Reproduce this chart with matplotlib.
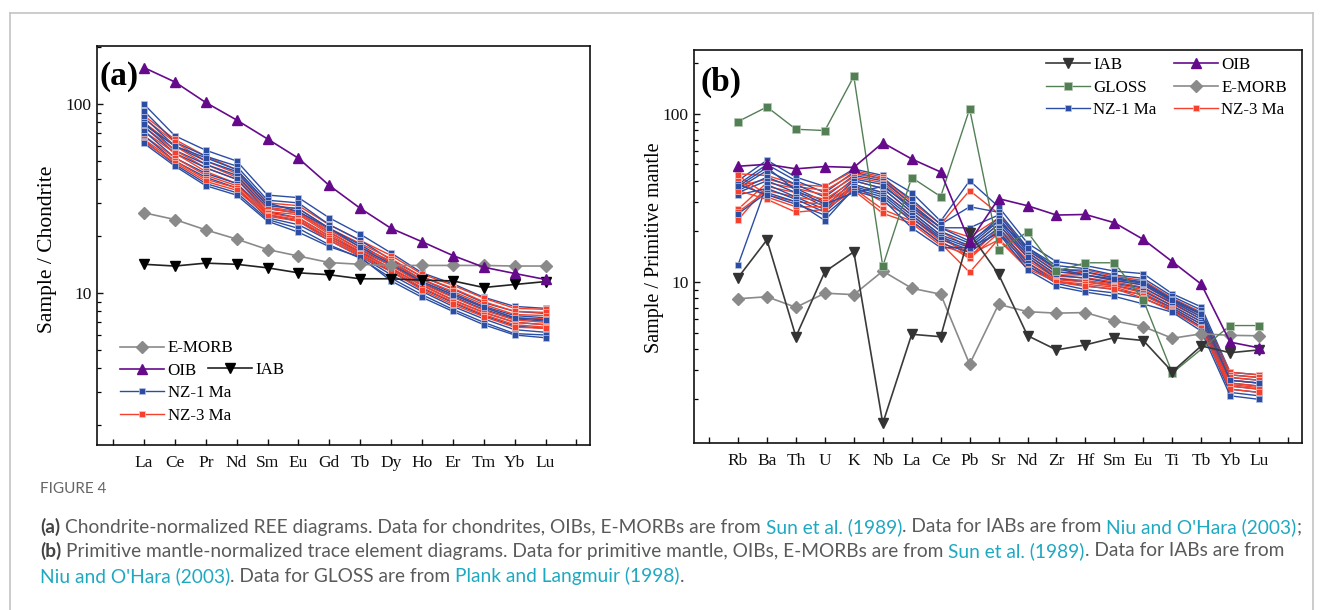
import matplotlib
matplotlib.use('Agg')
import matplotlib.pyplot as plt
import numpy as np
from matplotlib.lines import Line2D
from matplotlib.ticker import LogLocator, NullFormatter, FixedLocator, FixedFormatter, FuncFormatter

W, H = 1323, 610

# ---- panel (a): chondrite-normalized REE ----
ree = ['La', 'Ce', 'Pr', 'Nd', 'Sm', 'Eu', 'Gd', 'Tb', 'Dy', 'Ho', 'Er', 'Tm', 'Yb', 'Lu']
oib_ree = [156, 131, 102, 82.4, 65.4, 51.7, 37.1, 28.1, 22.0, 18.7, 15.8, 13.7, 12.7, 11.8]
emorb_ree = [26.6, 24.5, 21.6, 19.3, 17.0, 15.7, 14.5, 14.2, 14.0, 14.0, 14.0, 14.0, 13.9, 13.9]
iab_ree = [14.2, 13.9, 14.4, 14.2, 13.6, 12.8, 12.5, 11.9, 11.9, 11.7, 11.6, 10.7, 11.1, 11.5]

nz1_ree = [
    [100, 68, 57, 50, 33, 32, 25, 20.5, 16.3, 12.8, 11.2, 9.5, 8.5, 8.3],
    [92, 63, 53, 47, 31, 30, 23, 19, 15, 12.2, 10.5, 8.9, 8.0, 7.8],
    [85, 60, 50, 44, 29, 28, 22, 18, 14.5, 11.8, 10.0, 8.5, 7.6, 7.4],
    [80, 57, 48, 42, 28, 26.5, 21, 17, 14, 11.3, 9.6, 8.2, 7.3, 7.1],
    [76, 55, 46, 40, 27, 25, 20, 16.5, 13.5, 11, 9.2, 7.9, 7.0, 6.8],
    [72, 52, 43, 38, 26, 24, 19.5, 16, 13, 10.6, 8.9, 7.6, 6.7, 6.5],
    [68, 50, 41, 36, 25, 23, 19, 15.7, 12.5, 10.2, 8.5, 7.3, 6.4, 6.2],
    [64, 48, 38, 34, 24.5, 22, 18, 15.3, 12, 9.8, 8.2, 7.0, 6.1, 6.0],
    [62, 47, 37, 33, 24, 21, 17.6, 15.5, 11.6, 9.5, 8.0, 6.8, 6.0, 5.8],
    [78, 60, 52, 45, 30, 27, 22, 17.5, 14.2, 11.5, 9.8, 8.4, 7.4, 7.2],
]
nz3_ree = [
    [87, 65, 53, 45, 30, 29, 23, 19, 15.8, 12.6, 11.0, 9.4, 8.3, 8.2],
    [84, 63, 50, 43, 29, 28, 22, 18.3, 15.2, 12.2, 10.6, 9.0, 8.0, 7.9],
    [80, 60, 48, 41, 28.5, 27, 21.5, 17.5, 14.8, 11.8, 10.2, 8.7, 7.7, 7.6],
    [76, 57, 46, 40, 28, 26.5, 21, 17, 14.5, 11.5, 9.8, 8.4, 7.4, 7.3],
    [72, 55, 44, 38, 27, 26, 20.5, 16.6, 14, 11.2, 9.5, 8.1, 7.2, 7.0],
    [68, 52, 42, 37, 26.5, 25, 20, 16.2, 13.6, 11, 9.2, 7.9, 7.0, 6.8],
    [65, 50, 40, 36, 26, 24.5, 19.5, 16, 13.3, 10.7, 9.0, 7.7, 6.8, 6.6],
    [63, 49, 39, 35, 25.5, 24, 19, 15.6, 13, 10.4, 8.7, 7.5, 6.6, 6.5],
]

# ---- panel (b): primitive-mantle-normalized trace elements ----
trace = ['Rb', 'Ba', 'Th', 'U', 'K', 'Nb', 'La', 'Ce', 'Pb', 'Sr',
         'Nd', 'Zr', 'Hf', 'Sm', 'Eu', 'Ti', 'Tb', 'Yb', 'Lu']
oib_tr = [48.8, 50.1, 47.1, 48.6, 48.0, 67.3, 53.9, 45.1, 17.3, 31.3,
          28.4, 25.0, 25.2, 22.5, 17.9, 13.2, 9.7, 4.38, 4.05]
emorb_tr = [7.94, 8.16, 7.06, 8.57, 8.4, 11.6, 9.17, 8.45, 3.24, 7.35,
            6.65, 6.52, 6.57, 5.86, 5.42, 4.62, 4.91, 4.81, 4.78]
iab_tr = [10.6, 17.8, 4.72, 11.5, 15.1, 1.44, 4.88, 4.72, 19.5, 11.1,
          4.79, 3.94, 4.22, 4.66, 4.48, 2.92, 4.16, 3.79, 3.94]
gloss_tr = [90, 110, 81, 79.6, 167, 12.4, 41.8, 32.2, 107, 15.5,
            19.8, 11.6, 13.0, 13.0, 7.8, 2.87, None, 5.5, 5.5]

nz1_tr = [
    [40, 53, 42, 37, 47, 43, 34, 23, 40, 28, 17, 13.2, 12.5, 11.6, 11.2, 8.5, 7.1, 2.9, 2.8],
    [38, 50, 40, 34, 45, 41, 31, 22, 28, 26, 16, 12.5, 12, 11, 10.5, 8.2, 6.8, 2.8, 2.7],
    [36, 46, 38, 32, 43, 40, 29, 21, 21, 25, 15.5, 12, 11.5, 10.6, 10, 7.9, 6.5, 2.7, 2.6],
    [35, 42, 36, 30, 41, 38, 27, 20, 17, 24, 15, 11.5, 11, 10.2, 9.6, 7.7, 6.2, 2.6, 2.5],
    [34, 40, 34, 28, 40, 36, 26, 19, 16.5, 23, 14.5, 11, 10.5, 9.8, 9.2, 7.5, 6.0, 2.5, 2.4],
    [12.6, 38, 32, 27, 38, 34, 25, 18.5, 16, 22, 14, 10.5, 10, 9.5, 8.8, 7.2, 5.8, 2.4, 2.3],
    [33, 36, 31, 26, 37, 33, 24, 18, 15.5, 21, 13, 10, 9.5, 9.0, 8.4, 7.0, 5.6, 2.3, 2.2],
    [25.4, 34, 30, 23.2, 36, 32, 23, 17, 15, 20, 12.5, 9.8, 9.0, 8.6, 8.0, 6.8, 5.4, 2.2, 2.1],
    [38, 33, 29, 25, 35, 31, 21, 16, 16, 19.5, 11.8, 9.4, 8.7, 8.2, 7.4, 6.6, 5.1, 2.1, 2.0],
    [37, 48, 35, 29, 34, 37, 28, 21, 17.5, 23, 16, 12, 11, 10.4, 9.8, 7.8, 6.4, 2.6, 2.5],
]
nz3_tr = [
    [44, 43, 38, 37, 46, 42, 30, 22, 35, 25.5, 15.5, 11.8, 11.8, 10.8, 10.2, 8.0, 6.6, 2.9, 2.8],
    [37, 41, 37, 35, 44, 41, 29, 21, 18.5, 24, 15, 11.4, 11.4, 10.5, 9.9, 7.8, 6.4, 2.8, 2.7],
    [27, 39, 36, 33, 42, 39, 28, 20, 16, 22, 14.5, 11, 11, 10.2, 9.6, 7.6, 6.2, 2.7, 2.6],
    [23.4, 37, 34, 31, 40, 36, 26, 19, 14, 21, 14, 10.8, 10.6, 10, 9.3, 7.4, 6.0, 2.6, 2.5],
    [26, 35, 32, 30, 38, 34, 25, 18, 15, 20, 13.5, 10.5, 10.2, 9.7, 9.0, 7.2, 5.8, 2.5, 2.4],
    [43, 33, 30, 29, 37, 30, 24, 17.5, 13.8, 19.5, 13, 10.3, 10, 9.5, 8.6, 7.0, 5.6, 2.45, 2.35],
    [40, 32, 28, 28, 36, 27, 23, 17, 11.4, 18, 12.5, 10.1, 9.7, 9.3, 8.3, 6.9, 5.4, 2.4, 2.3],
    [35, 31, 26, 27, 35, 25.6, 22.3, 16.5, 14.5, 17.8, 12, 10, 9.4, 9.1, 8.0, 6.7, 5.3, 2.3, 2.2],
]

serif = 'Liberation Serif'
plt.rcParams['font.family'] = serif

BLUE = '#2b4ea3'
RED = '#f4402c'
PURPLE = '#660a8c'
GREY = '#8a8a8a'
GREEN = '#537f55'

sty = {
    'nz1': dict(color=BLUE, marker='s', ms=4.2, lw=1.0, mfc=BLUE, mec='#b9c4e4', mew=0.5),
    'nz3': dict(color=RED, marker='s', ms=4.2, lw=1.0, mfc=RED, mec='#ffc6bc', mew=0.5),
    'oib': dict(color=PURPLE, marker='^', ms=7, lw=1.2, mfc=PURPLE, mec=PURPLE),
    'emorb': dict(color=GREY, marker='D', ms=6, lw=1.2, mfc=GREY, mec=GREY),
    'gloss': dict(color=GREEN, marker='s', ms=6, lw=1.0, mfc=GREEN, mec='#b5c9b5', mew=0.5),
}


def px_axes(fig, left, top, right, bottom):
    return fig.add_axes([left / W, 1 - bottom / H, (right - left) / W, (bottom - top) / H])


def style_axes(ax, names, ylim, xmax):
    n = len(names)
    ax.set_yscale('log')
    ax.set_ylim(*ylim)
    ax.set_xlim(-0.52, xmax)
    ax.xaxis.set_major_locator(FixedLocator(range(0, n + 2)))
    ax.xaxis.set_major_formatter(FixedFormatter([''] + names + ['']))
    ax.yaxis.set_major_locator(LogLocator(base=10, numticks=10))
    ax.yaxis.set_major_formatter(FuncFormatter(lambda v, p: f'{v:g}'))
    ax.yaxis.set_minor_locator(LogLocator(base=10, subs=np.arange(2, 10), numticks=20))
    ax.yaxis.set_minor_formatter(NullFormatter())
    ax.tick_params(axis='both', which='major', direction='in', length=4.5, width=1.0,
                   labelsize=12.5, colors='#111111')
    ax.tick_params(axis='x', which='major', pad=7.5)
    ax.tick_params(axis='y', which='major', pad=4)
    ax.tick_params(axis='y', which='minor', direction='in', length=3, width=0.9)
    for s in ax.spines.values():
        s.set_linewidth(1.2)
        s.set_color('#111111')


def draw_series(ax, x, y, key, z):
    y = np.array([np.nan if v is None else v for v in y], dtype=float)
    ok = ~np.isnan(y)
    ax.plot(np.asarray(x)[ok], y[ok], zorder=z, **sty[key])


fig = plt.figure(figsize=(W / 100, H / 100), dpi=100)

# ---------------- (a) ----------------
axa = px_axes(fig, 97, 46, 590, 445)
xa = np.arange(1, len(ree) + 1)
for i in range(max(len(nz1_ree), len(nz3_ree))):
    if i < len(nz1_ree):
        draw_series(axa, xa, nz1_ree[i], 'nz1', 2)
    if i < len(nz3_ree):
        draw_series(axa, xa, nz3_ree[i], 'nz3', 2)
draw_series(axa, xa, emorb_ree, 'emorb', 3)
axa.plot(xa, iab_ree, color='#222222', marker='v', ms=7, lw=1.2, mfc='black', mec='black', zorder=3)
draw_series(axa, xa, oib_ree, 'oib', 4)
style_axes(axa, ree, (1.57, 203), 15.44)
axa.set_ylabel('Sample / Chondrite', fontsize=15.5)
axa.yaxis.set_label_coords(-0.082, 0.49)
axa.text(0.006, 0.962, '(a)', transform=axa.transAxes, fontsize=24, fontweight='bold',
         va='top', ha='left')

h_em = Line2D([], [], **sty['emorb'])
h_oib = Line2D([], [], **sty['oib'])
h_nz1 = Line2D([], [], **sty['nz1'])
h_nz3 = Line2D([], [], **sty['nz3'])
h_iab_a = Line2D([], [], color='#222222', marker='v', ms=7, lw=1.2, mfc='black', mec='black')
leg_kw = dict(frameon=False, fontsize=12.2, handlelength=2.6, handletextpad=0.2,
              borderpad=0, borderaxespad=0, labelspacing=0.38, loc='upper left')
leg1 = axa.legend([h_em, h_oib, h_nz1, h_nz3], ['E-MORB', 'OIB', 'NZ-1 Ma', 'NZ-3 Ma'],
                  bbox_to_anchor=(0.047, 0.262), **leg_kw)
axa.add_artist(leg1)
axa.legend([h_iab_a], ['IAB'], bbox_to_anchor=(0.225, 0.209), **leg_kw)

# ---------------- (b) ----------------
axb = px_axes(fig, 694, 50, 1302, 443)
xb = np.arange(1, len(trace) + 1)
for i in range(max(len(nz1_tr), len(nz3_tr))):
    if i < len(nz1_tr):
        draw_series(axb, xb, nz1_tr[i], 'nz1', 2)
    if i < len(nz3_tr):
        draw_series(axb, xb, nz3_tr[i], 'nz3', 2)
draw_series(axb, xb, emorb_tr, 'emorb', 3)
draw_series(axb, xb, gloss_tr, 'gloss', 3)
axb.plot(xb, iab_tr, color='#3a3a3a', marker='v', ms=7, lw=1.2, mfc='#333333', mec='#333333', zorder=3)
draw_series(axb, xb, oib_tr, 'oib', 4)
style_axes(axb, trace, (1.1, 240), 20.48)
axb.set_ylabel('Sample / Primitive mantle', fontsize=14.5)
axb.yaxis.set_label_coords(-0.05, 0.496)
axb.text(0.011, 0.957, '(b)', transform=axb.transAxes, fontsize=24, fontweight='bold',
         va='top', ha='left')

h_iab_b = Line2D([], [], color='#3a3a3a', marker='v', ms=7, lw=1.2, mfc='#333333', mec='#333333')
h_gl = Line2D([], [], **sty['gloss'])
axb.legend([h_iab_b, h_gl, h_nz1, h_oib, h_em, h_nz3],
           ['IAB', 'GLOSS', 'NZ-1 Ma', 'OIB', 'E-MORB', 'NZ-3 Ma'],
           ncol=2, columnspacing=1.0, bbox_to_anchor=(0.579, 0.982), **leg_kw)

# ---------------- frame and caption ----------------
frame_c = '#c4c4c4'
fig.add_artist(Line2D([10 / W, 10 / W], [0, 1 - 13 / H], color=frame_c, lw=1.2))
fig.add_artist(Line2D([10 / W, 1313 / W], [1 - 13 / H, 1 - 13 / H], color=frame_c, lw=1.2))
fig.add_artist(Line2D([1313 / W, 1313 / W], [0, 1 - 13 / H], color=frame_c, lw=1.2))

TXT = '#5a5a5a'
LINK = '#1fa9c1'
cap_font = 'Lato'
cap_size = 13.8

renderer = fig.canvas.get_renderer()


def text_width(s, size, weight='normal'):
    t = fig.text(0, 0, s, fontsize=size, family=cap_font, fontweight=weight)
    w = t.get_window_extent(renderer=renderer).width
    t.remove()
    return w


space_w = text_width('a a', cap_size) - text_width('aa', cap_size)


def rich_line(x, y, pieces):
    for s, color, weight in pieces:
        lead = len(s) - len(s.lstrip(' '))
        trail = len(s) - len(s.rstrip(' '))
        x += lead * space_w
        core = s.strip(' ')
        t = fig.text(x / W, 1 - y / H, core, color=color, fontsize=cap_size,
                     family=cap_font, fontweight=weight, va='center', ha='left')
        x += t.get_window_extent(renderer=renderer).width + trail * space_w


fig.text(40 / W, 1 - 489 / H, 'FIGURE 4', color='#666666', fontsize=11,
         family=cap_font, va='center', ha='left')
rich_line(40, 527, [
    ('(a)', '#444444', 'bold'),
    (' Chondrite-normalized REE diagrams. Data for chondrites, OIBs, E-MORBs are from ', TXT, 'normal'),
    ('Sun et al. (1989)', LINK, 'normal'),
    ('. Data for IABs are from ', TXT, 'normal'),
    ("Niu and O'Hara (2003)", LINK, 'normal'),
    (';', TXT, 'normal'),
])
rich_line(40, 551, [
    ('(b)', '#444444', 'bold'),
    (' Primitive mantle-normalized trace element diagrams. Data for primitive mantle, OIBs, E-MORBs are from ', TXT, 'normal'),
    ('Sun et al. (1989)', LINK, 'normal'),
    ('. Data for IABs are from', TXT, 'normal'),
])
rich_line(40, 576, [
    ("Niu and O'Hara (2003)", LINK, 'normal'),
    ('. Data for GLOSS are from ', TXT, 'normal'),
    ('Plank and Langmuir (1998)', LINK, 'normal'),
    ('.', TXT, 'normal'),
])

fig.savefig('out.png', dpi=100, facecolor='white')
